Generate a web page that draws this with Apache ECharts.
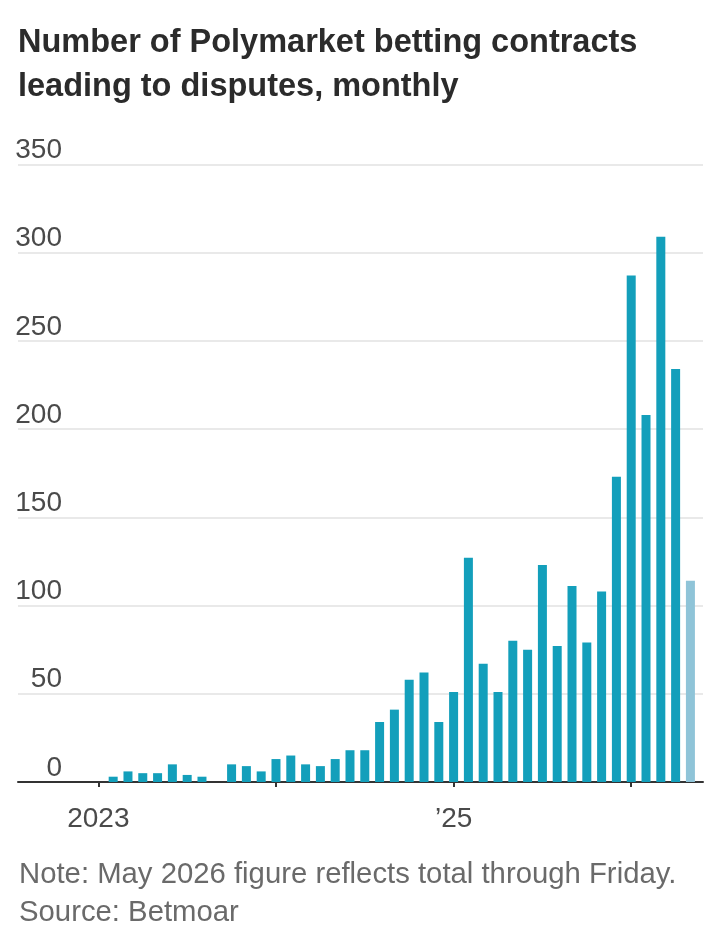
<!DOCTYPE html>
<html>
<head>
<meta charset="utf-8">
<script src="https://cdn.jsdelivr.net/npm/echarts@6/dist/echarts.min.js"></script>
<style>
  html, body { margin: 0; padding: 0; background: #ffffff; }
  #chart { width: 719px; height: 943px; }
</style>
</head>
<body>
<div id="chart"></div>
<script>
// Months, Jan 2023 (index 0) to May 2026 (index 40)
const months = [
  'Jan 2023','Feb 2023','Mar 2023','Apr 2023','May 2023','Jun 2023','Jul 2023','Aug 2023','Sep 2023','Oct 2023','Nov 2023','Dec 2023',
  'Jan 2024','Feb 2024','Mar 2024','Apr 2024','May 2024','Jun 2024','Jul 2024','Aug 2024','Sep 2024','Oct 2024','Nov 2024','Dec 2024',
  'Jan 2025','Feb 2025','Mar 2025','Apr 2025','May 2025','Jun 2025','Jul 2025','Aug 2025','Sep 2025','Oct 2025','Nov 2025','Dec 2025',
  'Jan 2026','Feb 2026','Mar 2026','Apr 2026','May 2026'
];
const disputes = [
  0, 3, 6, 5, 5, 10, 4, 3, 0, 10, 9, 6,
  13, 15, 10, 9, 13, 18, 18, 34, 41, 58, 62, 34,
  51, 127, 67, 51, 80, 75, 123, 77, 111, 79, 108, 173,
  287, 208, 309, 234, 114
];
const partialMonth = 'May 2026';
const yTicks = [0, 50, 100, 150, 200, 250, 300, 350];
const xTickMonths = ['Jan 2023', 'Jan 2024', 'Jan 2025', 'Jan 2026'];
const xLabelMonths = ['Jan 2023', 'Jan 2025'];
const xLabelTexts = ['2023', '\u201925'];

const titleText = 'Number of Polymarket betting contracts\nleading to disputes, monthly';
const noteText = 'Note: May 2026 figure reflects total through Friday.\nSource: Betmoar';

const BAR = '#139fbb';
const BAR_LIGHT = '#8fc4d8';

const barData = disputes.map((v, i) => ({
  value: [i, v],
  itemStyle: { color: months[i] === partialMonth ? BAR_LIGHT : BAR }
}));
const tickIdx = xTickMonths.map(m => months.indexOf(m));
const labelIdx = xLabelMonths.map(m => months.indexOf(m));

const chart = echarts.init(document.getElementById('chart'), null, { renderer: 'canvas' });
chart.setOption({
  animation: false,
  backgroundColor: '#ffffff',
  title: [
    {
      text: titleText,
      left: 13, top: 16,
      textStyle: { fontFamily: 'Liberation Sans', fontWeight: 'bold', fontSize: 32.5, lineHeight: 44, color: '#2b2b2b' }
    },
    {
      text: noteText,
      left: 14, top: 851,
      textStyle: { fontFamily: 'Liberation Sans', fontWeight: 'normal', fontSize: 29.3, lineHeight: 38, color: '#6a6a6a' }
    }
  ],
  grid: { left: 18, right: 16, top: 164.3, bottom: 161, containLabel: false },
  xAxis: {
    type: 'value',
    min: -5.43, max: 40.85,
    splitLine: { show: false },
    axisLine: { show: true, onZero: false, lineStyle: { color: '#333333', width: 2 } },
    axisTick: { show: true, customValues: tickIdx, length: 5, lineStyle: { color: '#333333', width: 2 } },
    axisLabel: {
      customValues: labelIdx,
      formatter: v => xLabelTexts[labelIdx.indexOf(Math.round(v))] || '',
      fontFamily: 'Liberation Sans',
      fontSize: 28, color: '#4a4a4a', margin: 23
    }
  },
  yAxis: {
    type: 'value',
    min: yTicks[0], max: yTicks[yTicks.length - 1], interval: 50,
    axisLine: { show: false },
    axisTick: { show: false },
    splitLine: { show: true, lineStyle: { color: '#e2e2e2', width: 1.5 } },
    axisLabel: {
      inside: true, margin: 44, align: 'right', verticalAlign: 'bottom',
      fontFamily: 'Liberation Sans',
      fontSize: 28, color: '#4a4a4a'
    }
  },
  series: [{
    type: 'bar',
    data: barData,
    barWidth: 9,
    z: 1
  }]
});
</script>
</body>
</html>
